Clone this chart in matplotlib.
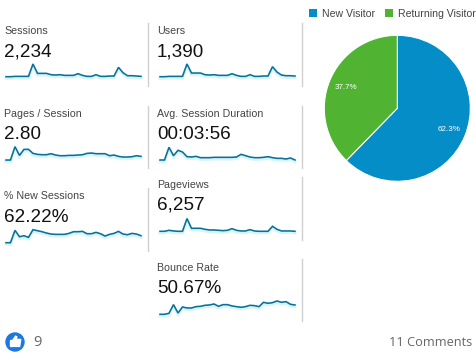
import matplotlib
matplotlib.use('Agg')
import matplotlib.pyplot as plt
import matplotlib.patheffects as pe
from matplotlib.patches import Circle, Polygon, Rectangle

plt.rcParams['font.family'] = ['Liberation Sans', 'DejaVu Sans']

days = list(range(31))
sessions = [0,0,1,1,1,1,38,10,10,10,6,5,6,4,4,4,9,4,1,1,6,1,1,2,2,28,12,3,3,2,1]
users = [0,0,1,1,1,1,38,11,11,11,6,5,6,4,4,4,9,4,1,1,6,1,1,2,2,30,14,5,3,3,2]
pages = [2,2,42,16,34,34,22,19,18,18,21,17,15,15,16,16,17,18,22,23,21,21,21,15,17,13,11,11,12,15,13]
duration = [0,0,38,13,29,24,10,9,11,7,7,7,8,8,8,8,8,9,17,13,9,7,7,8,10,7,5,5,3,6,0]
new_sessions = [0,0,37,18,21,16,39,36,33,29,26,25,25,25,28,33,33,34,27,27,31,27,20,25,28,34,26,24,28,26,21]
pageviews = [0,0,3,1,0,0,38,9,9,9,6,4,4,3,2,3,8,3,1,1,5,1,0,0,0,15,6,1,1,1,0]
bounce = [0,0,3,29,4,22,19,19,23,24,27,28,31,24,29,29,25,23,21,23,27,26,23,36,33,35,40,36,38,30,28]

metric_names = ['Sessions','Users','Pages / Session','Avg. Session Duration','% New Sessions','Pageviews','Bounce Rate']
metric_values = ['2,234','1,390','2.80','00:03:56','62.22%','6,257','50.67%']
series = [sessions, users, pages, duration, new_sessions, pageviews, bounce]

pie_labels = ['New Visitor','Returning Visitor']
pie_shares = [62.3, 37.7]
pie_colors = ['#058dc7', '#50b432']

W, H = 477, 360
fig = plt.figure(figsize=(W/100, H/100), dpi=100, facecolor='white')
bg = fig.add_axes([0, 0, 1, 1])
bg.set_xlim(0, W); bg.set_ylim(H, 0); bg.axis('off')

# left x of text, left x of line, label y, value y, baseline y
layout = [(4, 6, 30.8, 52, 76.7), (157, 160, 30.8, 52, 76.7),
          (4, 6, 113.8, 134.5, 160.7), (157, 160, 113.8, 134.5, 160),
          (4, 6, 196.3, 217.5, 242.7), (157, 160, 184.8, 205.5, 231.3),
          (157, 160, 267.8, 288.5, 314.3)]
SPARK_W, SPARK_H = 135, 16
for name, val, s, (tx, lx, ly, vy, base) in zip(metric_names, metric_values, series, layout):
    bg.text(tx, ly, name, fontsize=7.7, color='#444444', va='center', ha='left')
    bg.text(tx, vy, val, fontsize=13.6, color='#111111', va='center', ha='left')
    ax = fig.add_axes([lx/W, 1-base/H, SPARK_W/W, SPARK_H/H])
    ax.set_xlim(0, 30); ax.set_ylim(0, SPARK_H*3)
    ax.axis('off')
    ax.plot(days, s, color='#0b6f96', lw=1.15, clip_on=False, solid_joinstyle='miter',
            path_effects=[pe.Stroke(offset=(0, -1.2), linewidth=2.2, foreground='#d5f5fc'), pe.Normal()])

for x, y0, y1 in [(148, 23, 86), (148, 106, 168), (148, 188, 251),
                  (302, 23, 86), (302, 106, 168), (302, 177, 240), (302, 259, 321)]:
    bg.plot([x, x], [y0, y1], color='#d0d0d0', lw=1)

# pie
R = 73
cx, cy = 397.3, 108.3
pax = fig.add_axes([(cx-R)/W, 1-(cy+R)/H, 2*R/W, 2*R/H])
wedges, _, autotexts = pax.pie(pie_shares, colors=pie_colors, startangle=90, counterclock=False, radius=1,
        autopct='%.1f%%', pctdistance=0.76,
        wedgeprops=dict(edgecolor='white', linewidth=0.8),
        textprops=dict(color='white', fontsize=5.8))
pax.set_xlim(-1, 1); pax.set_ylim(-1, 1)

# legend
leg = fig.legend(wedges, pie_labels, loc='center', bbox_to_anchor=(392.3/W, 1-14/H), ncol=2, frameon=False,
                 fontsize=7.6, handlelength=0.8, handleheight=0.8, handletextpad=0.45,
                 columnspacing=0.9, borderpad=0, labelcolor='#444444')
for h in leg.legend_handles:
    h.set_edgecolor('none')

# footer
bg.add_patch(Circle((15, 342), 9, color='#1b78e2', zorder=3))
bg.add_patch(Rectangle((9.6, 339.6), 2.6, 6.8, color='white', zorder=4))
bg.add_patch(Polygon([(13, 339.8), (15.6, 336.2), (16.8, 336.8), (16.2, 339.4), (20.8, 339.4),
                      (19.6, 346.4), (13, 346.4)], closed=True, color='white', zorder=4))
bg.text(33, 342, '9', fontsize=10.5, color='#666666', va='center', ha='left', family=['Open Sans', 'DejaVu Sans'])
bg.text(472, 342, '11 Comments', fontsize=9.2, color='#666666', va='center', ha='right', family=['Open Sans', 'DejaVu Sans'])

fig.savefig('out.png', dpi=100, facecolor='white')
